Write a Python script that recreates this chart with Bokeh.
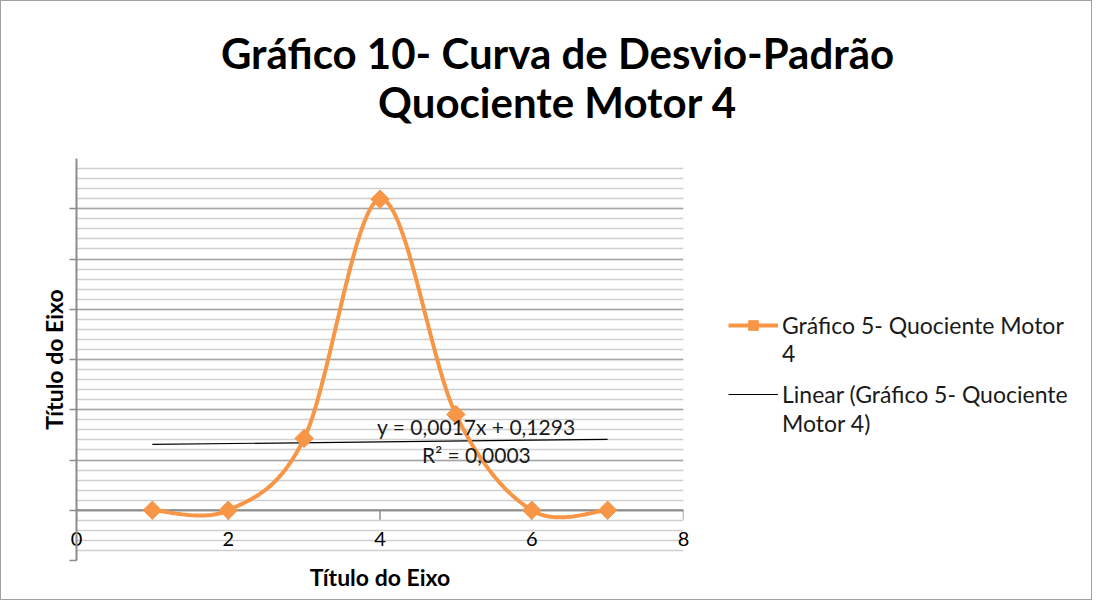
import numpy as np
from bokeh.plotting import figure
from bokeh.layouts import column, row
from bokeh.models import (Legend, LegendItem, SingleIntervalTicker, FixedTicker, Range1d, Label)
from bokeh.embed import file_html
from bokeh.resources import INLINE

# ---- data ----
x_vals = [1, 2, 3, 4, 5, 6, 7]
y_vals = [0.0, 0.0, 0.143, 0.619, 0.1906, 0.0, 0.0]
x_tick_vals = [0, 2, 4, 6, 8]
title_lines = ["Gráfico 10- Curva de Desvio-Padrão", "Quociente Motor 4"]
series_label_lines = ["Gráfico 5- Quociente Motor", "4"]
trend_label_lines = ["Linear (Gráfico 5- Quociente", "Motor 4)"]
eq_text = "y = 0,0017x + 0,1293"
r2_text = "R² = 0,0003"
axis_title = "Título do Eixo"

FONT = "Lato"
ORANGE = "#F79646"

# smooth curve (Excel-like Bezier through points)
xs = np.array(x_vals, dtype=float)
ys = np.array(y_vals, dtype=float)
n = len(xs)
cx, cy = [], []
for i in range(n - 1):
    p0 = np.array([xs[max(i - 1, 0)], ys[max(i - 1, 0)]])
    p1 = np.array([xs[i], ys[i]])
    p2 = np.array([xs[i + 1], ys[i + 1]])
    p3 = np.array([xs[min(i + 2, n - 1)], ys[min(i + 2, n - 1)]])
    c1 = p1 + (p2 - p0) / 6.0
    c2 = p2 - (p3 - p1) / 6.0
    t = np.linspace(0, 1, 40)[:, None]
    pts = ((1 - t) ** 3) * p1 + 3 * ((1 - t) ** 2) * t * c1 + 3 * (1 - t) * t ** 2 * c2 + t ** 3 * p2
    cx.extend(pts[:, 0].tolist())
    cy.extend(pts[:, 1].tolist())

slope, intercept = np.polyfit(xs, ys, 1)
trend_x = [xs[0], xs[-1]]
trend_y = [slope * xs[0] + intercept, slope * xs[-1] + intercept]


def blank(w, h):
    f = figure(width=w, height=h, output_backend="svg", toolbar_location=None,
               x_range=Range1d(0, w), y_range=Range1d(0, h),
               x_axis_location=None, y_axis_location=None, min_border=0)
    f.grid.visible = False
    f.outline_line_color = None
    f.background_fill_color = "white"
    f.border_fill_color = "white"
    return f


# ---- title band ----
pt = blank(1090, 130)
pt.add_layout(Label(x=556, y=79, text=title_lines[0], text_font=FONT, text_font_style="bold",
                    text_font_size="42px", text_align="center", text_baseline="middle",
                    text_color="black"))
pt.add_layout(Label(x=556, y=30, text=title_lines[1], text_font=FONT, text_font_style="bold",
                    text_font_size="42px", text_align="center", text_baseline="middle",
                    text_color="black"))

# ---- main plot ----
p = figure(width=700, height=468, output_backend="svg", toolbar_location=None,
           x_range=Range1d(0, 8), y_range=Range1d(-0.1, 0.7),
           min_border_left=75, min_border_right=18, min_border_top=27, min_border_bottom=39)
p.outline_line_color = None
p.background_fill_color = "white"
p.border_fill_color = "white"

p.xgrid.visible = False
p.ygrid.ticker = SingleIntervalTicker(interval=0.1, num_minor_ticks=5)
p.ygrid.grid_line_color = "#a6a6a6"
p.ygrid.grid_line_width = 1.5
p.ygrid.minor_grid_line_color = "#cfcfcf"
p.ygrid.minor_grid_line_width = 1.5

p.yaxis.ticker = SingleIntervalTicker(interval=0.1, num_minor_ticks=0)
p.yaxis.major_label_text_font_size = "0px"
p.yaxis.major_label_text_color = None
p.yaxis.axis_line_color = "#8c8c8c"
p.yaxis.axis_line_width = 2
p.yaxis.major_tick_line_color = "#8c8c8c"
p.yaxis.major_tick_line_width = 1.5
p.yaxis.major_tick_out = 7
p.yaxis.major_tick_in = 0
p.yaxis.minor_tick_line_color = None
p.yaxis.axis_label = axis_title
p.yaxis.axis_label_text_font = FONT
p.yaxis.axis_label_text_font_style = "bold"
p.yaxis.axis_label_text_font_size = "23px"
p.yaxis.axis_label_text_color = "black"
p.yaxis.axis_label_standoff = 2

p.xaxis.ticker = FixedTicker(ticks=x_tick_vals)
p.xaxis.axis_line_color = None
p.xaxis.major_tick_line_color = None
p.xaxis.minor_tick_line_color = None
p.xaxis.major_label_standoff = -35
p.xaxis.major_label_text_font = FONT
p.xaxis.major_label_text_font_size = "20px"
p.xaxis.major_label_text_color = "black"
p.xaxis.axis_label = axis_title
p.xaxis.axis_label_text_font = FONT
p.xaxis.axis_label_text_font_style = "bold"
p.xaxis.axis_label_text_font_size = "23px"
p.xaxis.axis_label_text_color = "black"
p.xaxis.axis_label_standoff = 14

# x axis line at y=0 and its ticks
p.segment(x0=[0], y0=[0], x1=[8], y1=[0], line_color="#8c8c8c", line_width=2)
p.segment(x0=x_tick_vals, y0=[0] * len(x_tick_vals), x1=x_tick_vals, y1=[-0.019] * len(x_tick_vals),
          line_color="#8c8c8c", line_width=1.5)

p.line(trend_x, trend_y, line_color="black", line_width=1.2)
p.line(cx, cy, line_color=ORANGE, line_width=4)
p.scatter(xs, ys, marker="square", size=13, angle=np.pi / 4, fill_color=ORANGE, line_color=ORANGE)

p.add_layout(Label(x=5.27, y=0.141, text=eq_text, text_font=FONT,
                   text_font_size="21px", text_align="center", text_baseline="bottom",
                   text_color="#1a1a1a"))
p.add_layout(Label(x=5.27, y=0.141, y_offset=-3, text=r2_text, text_font=FONT,
                   text_font_size="21px", text_align="center", text_baseline="top",
                   text_color="#1a1a1a"))

# ---- legend band (legend-only renderers hold no visible data) ----
pl = blank(390, 468)
leg_curve = pl.line([np.nan], [np.nan], line_color=ORANGE, line_width=4)
leg_marks = pl.scatter([np.nan], [np.nan], marker="square", size=10, angle=np.pi / 4,
                       fill_color=ORANGE, line_color=ORANGE)
leg_trend = pl.line([np.nan], [np.nan], line_color="black", line_width=1.2)

common = dict(border_line_color=None, background_fill_alpha=0, glyph_width=50, glyph_height=24,
              label_standoff=4, label_text_font=FONT, label_text_font_size="23px",
              label_text_color="#1a1a1a", padding=0, margin=0)
leg_a = Legend(items=[LegendItem(label=series_label_lines[0], renderers=[leg_curve, leg_marks]),
                      LegendItem(label=series_label_lines[1], renderers=[])],
               location=(27, 193), spacing=0, **common)
leg_b = Legend(items=[LegendItem(label=trend_label_lines[0], renderers=[leg_trend]),
                      LegendItem(label=trend_label_lines[1], renderers=[])],
               location=(27, 123), spacing=1, **common)
pl.add_layout(leg_a)
pl.add_layout(leg_b)

layout = column(pt, row(p, pl), styles={"border": "1px solid #a0a0a0"})

open("out.html", "w").write(file_html(layout, INLINE))
